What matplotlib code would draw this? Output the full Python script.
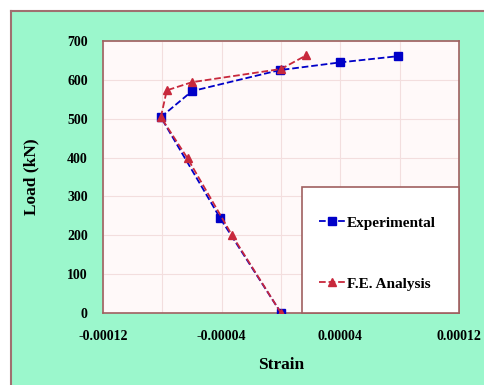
import numpy as np
import matplotlib as mpl
mpl.use('Agg')
import matplotlib.pyplot as plt
from matplotlib.patches import Rectangle
from matplotlib.lines import Line2D

# experimental readings
exp_strain = [0.0, -0.000041, -0.000081, -0.000060, -0.000001, 0.000040, 0.000079]
exp_load = [0, 244, 504, 571, 625, 645, 661]

# F.E. analysis
fe_strain = [0.0, -0.000033, -0.000063, -0.000081, -0.000077, -0.000060, 0.0, 0.000017]
fe_load = [0, 200, 398, 504, 573, 594, 628, 663]

xticks = [-0.00012, -0.00004, 0.00004, 0.00012]
xtick_labels = ['-0.00012', '-0.00004', '0.00004', '0.00012']
yticks = [0, 100, 200, 300, 400, 500, 600, 700]

plt.rcParams['font.family'] = ['Liberation Serif', 'DejaVu Serif']

fig = plt.figure(figsize=(4.85, 3.85), dpi=100, facecolor='white')
x0, y0 = 11 / 485, 1 - 11 / 385
fig.patches.append(Rectangle((x0, 0), 1 - x0, y0, transform=fig.transFigure,
                             facecolor='#9bf7cc', edgecolor='none', zorder=-5))
fig.lines.append(Line2D([x0, x0], [0, y0], transform=fig.transFigure,
                        color='#a07070', linewidth=1.5))
fig.lines.append(Line2D([x0, 1], [y0, y0], transform=fig.transFigure,
                        color='#a07070', linewidth=1.5))

ax = fig.add_axes([103 / 485, 72 / 385, 356 / 485, 272 / 385])
ax.set_facecolor('#fff9f9')
for s in ax.spines.values():
    s.set_color('#a06060')
    s.set_linewidth(1.2)

ax.set_xlim(-0.00012, 0.00012)
ax.set_ylim(0, 700)
ax.set_xticks(xticks)
ax.set_xticklabels(xtick_labels)
ax.set_yticks(yticks)
ax.set_xticks(np.arange(-0.00012, 0.000121, 0.00004), minor=True)
ax.tick_params(which='both', length=0, labelsize=10, pad=12)
ax.tick_params(axis='y', pad=11)
for lab in ax.get_xticklabels() + ax.get_yticklabels():
    lab.set_fontweight('bold')
ax.grid(True, which='both', color='#f3dede', linewidth=0.8)
ax.set_axisbelow(True)

ax.plot(exp_strain, exp_load, color='#0000c8', linestyle='--', linewidth=1.3,
        marker='s', markersize=6, label='Experimental', zorder=3)
ax.plot(fe_strain, fe_load, color='#c8283c', linestyle='--', linewidth=1.3,
        marker='^', markersize=6, label='F.E. Analysis', zorder=3)

ax.set_xlabel('Strain', fontsize=12.5, fontweight='bold', labelpad=10)
ax.set_ylabel('Load (kN)', fontsize=12.5, fontweight='bold', labelpad=20)

# legend box drawn separately so it can be taller than its contents
ax.add_patch(Rectangle((0.559, 0), 0.441, 0.463, transform=ax.transAxes,
                       facecolor='white', edgecolor='#a06060', linewidth=1.2,
                       zorder=4, clip_on=False))
leg = ax.legend(loc='center', bbox_to_anchor=(0.771, 0.219),
                labelspacing=3.1, borderpad=0, handlelength=1.75,
                handletextpad=0.1, frameon=False,
                prop={'weight': 'bold', 'size': 11})
leg.set_zorder(5)

plt.savefig('out.png', dpi=100, facecolor=fig.get_facecolor())
